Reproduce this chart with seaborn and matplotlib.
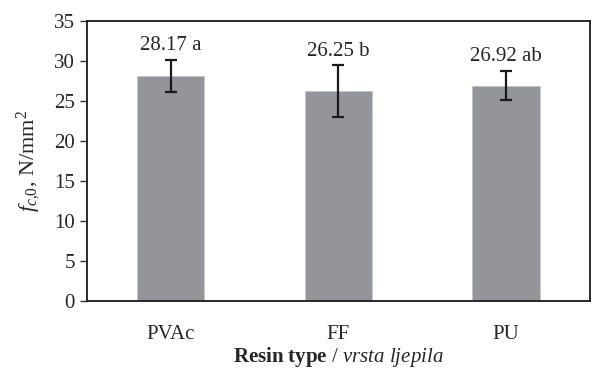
import pandas as pd
import numpy as np
import matplotlib.pyplot as plt
import seaborn as sns

# Compression strength by resin type
resins = ["PVAc", "FF", "PU"]
means = [28.17, 26.25, 26.92]
errors = [2.0, 3.2, 1.8]
letters = ["a", "b", "ab"]

df = pd.DataFrame({"resin": resins, "mean": means})

sns.set_style("white")
plt.rcParams["font.family"] = ["Liberation Serif", "DejaVu Serif"]
plt.rcParams["mathtext.fontset"] = "custom"
plt.rcParams["mathtext.rm"] = "Liberation Serif"
plt.rcParams["mathtext.it"] = "Liberation Serif:italic"
plt.rcParams["mathtext.bf"] = "Liberation Serif:bold"

fig = plt.figure(figsize=(5.91, 3.69), dpi=100)
ax = fig.add_axes([0.147, 0.184, 0.851, 0.759])

sns.barplot(data=df, x="resin", y="mean", color="#939598", saturation=1,
            width=0.4, errorbar=None, edgecolor="#c4c4c6", linewidth=0.6, ax=ax)
ax.errorbar(range(len(resins)), means, yerr=errors, fmt="none", ecolor="#1a1a1a",
            elinewidth=1.6, capsize=4, capthick=1.6)

for i, (m, e, l) in enumerate(zip(means, errors, letters)):
    ax.text(i, m + e + 0.6, f"{m:.2f} {l}", ha="center", va="bottom", fontsize=15)

ax.set_ylim(0, 35)
ax.set_xlim(-0.5, 2.5)
ax.set_yticks(range(0, 36, 5))
ax.set_xticks(range(len(resins)))
ax.set_xticklabels(resins)
ax.set_xticks([-0.5, 0.5, 1.5, 2.5], minor=True)
ax.tick_params(axis="x", which="major", length=0, pad=17, labelsize=15)
ax.tick_params(axis="x", which="minor", length=4, width=1, direction="out", color="#333333")
ax.tick_params(axis="y", length=5, width=1, direction="out", labelsize=15, left=True, color="#333333")

for s in ax.spines.values():
    s.set_visible(True)
    s.set_color("#1a1a1a")
    s.set_linewidth(1.3)

ax.set_ylabel(r"$f_{c{,}0}$, N/mm$^2$", fontsize=16, labelpad=8)
ax.set_xlabel(r"$\mathbf{Resin\ type}$ / $\mathit{vrsta\ ljepila}$", fontsize=15, labelpad=1)

plt.savefig("out.png", dpi=100)
